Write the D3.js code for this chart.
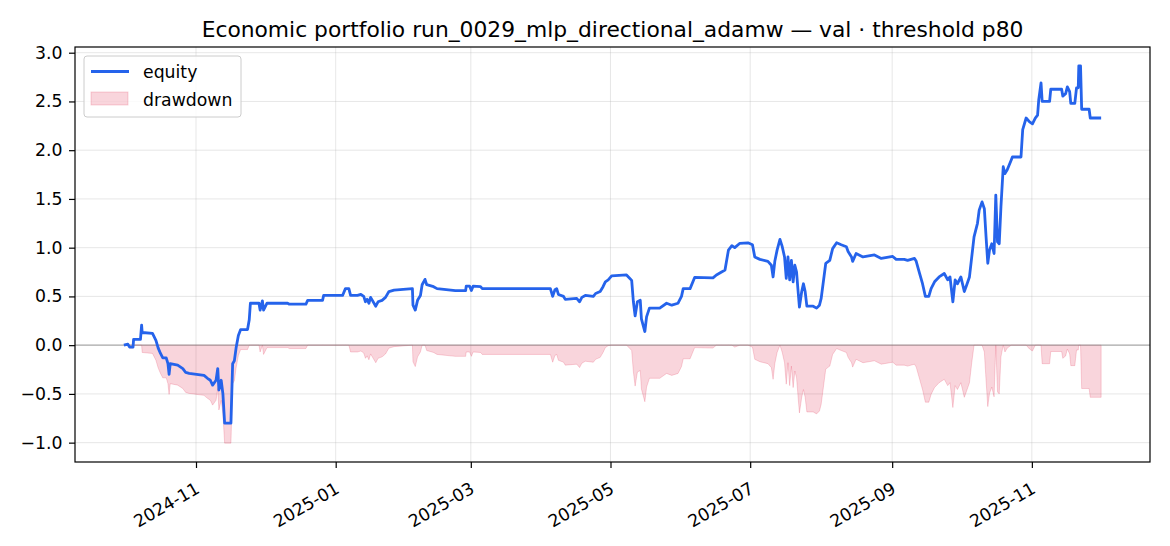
<!DOCTYPE html>
<html>
<head>
<meta charset="utf-8">
<script src="https://cdn.jsdelivr.net/npm/d3@7"></script>
<style>
body{margin:0;background:#fff}
text{font-family:"DejaVu Sans",sans-serif}
</style>
</head>
<body>
<svg id="chart" width="1170" height="546"></svg>
<script>
// values
const dates = [
"2024-09-30T12","2024-10-02T06","2024-10-03T00","2024-10-04T12","2024-10-04T18","2024-10-07T18","2024-10-08T06","2024-10-08T12","2024-10-13T00","2024-10-14T12",
"2024-10-15T12","2024-10-16T12","2024-10-17T12","2024-10-19T00","2024-10-19T18","2024-10-20T06","2024-10-20T18","2024-10-24T00","2024-10-26T06","2024-10-27T12",
"2024-10-29T00","2024-11-04T12","2024-11-06T00","2024-11-07T06","2024-11-08T06","2024-11-09T18","2024-11-10T12","2024-11-11T00","2024-11-12T00","2024-11-12T18",
"2024-11-13T12","2024-11-16T06","2024-11-17T00","2024-11-17T18","2024-11-18T12","2024-11-19T12","2024-11-20T12","2024-11-23T12","2024-11-24T06","2024-11-24T18",
"2024-11-28T12","2024-11-29T00","2024-11-30T00","2024-11-30T12","2024-12-02T00","2024-12-11T00","2024-12-11T18","2024-12-19T00","2024-12-19T18","2024-12-26T06",
"2024-12-26T18","2025-01-04T00","2025-01-05T06","2025-01-06T18","2025-01-07T12","2025-01-10T12","2025-01-12T00","2025-01-13T06","2025-01-14T00","2025-01-14T18",
"2025-01-15T12","2025-01-16T06","2025-01-18T12","2025-01-19T12","2025-01-21T06","2025-01-22T18","2025-01-24T06","2025-01-26T12","2025-02-03T12","2025-02-03T18",
"2025-02-04T18","2025-02-05T18","2025-02-07T00","2025-02-07T18","2025-02-09T00","2025-02-09T18","2025-02-12T18","2025-02-14T06","2025-02-22T06","2025-02-26T18",
"2025-02-27T00","2025-02-28T12","2025-03-01T06","2025-03-02T00","2025-03-05T06","2025-03-06T00","2025-04-04T18","2025-04-05T18","2025-04-06T18","2025-04-07T12",
"2025-04-08T06","2025-04-10T12","2025-04-11T06","2025-04-16T06","2025-04-17T12","2025-04-18T12","2025-04-20T00","2025-04-23T12","2025-04-24T12","2025-04-26T12",
"2025-04-27T18","2025-04-28T18","2025-04-30T00","2025-05-01T12","2025-05-08T00","2025-05-09T06","2025-05-10T06","2025-05-11T00","2025-05-11T18","2025-05-12T18",
"2025-05-14T00","2025-05-14T12","2025-05-16T00","2025-05-16T18","2025-05-18T00","2025-05-22T12","2025-05-25T12","2025-05-27T18","2025-05-30T12","2025-06-01T00",
"2025-06-01T18","2025-06-04T18","2025-06-06T18","2025-06-14T18","2025-06-16T06","2025-06-18T12","2025-06-20T00","2025-06-21T12","2025-06-23T00","2025-06-24T06",
"2025-06-26T12","2025-06-30T00","2025-07-02T00","2025-07-03T00","2025-07-05T06","2025-07-08T18","2025-07-10T06","2025-07-11T00","2025-07-11T18","2025-07-12T18",
"2025-07-14T00","2025-07-15T00","2025-07-16T00","2025-07-16T18","2025-07-17T12","2025-07-18T06","2025-07-19T00","2025-07-19T18","2025-07-20T12","2025-07-21T06",
"2025-07-22T00","2025-07-22T12","2025-07-23T12","2025-07-24T06","2025-07-25T00","2025-07-25T18","2025-07-28T12","2025-07-30T00","2025-07-31T06","2025-08-01T00",
"2025-08-03T00","2025-08-04T18","2025-08-06T00","2025-08-07T18","2025-08-09T18","2025-08-12T00","2025-08-12T18","2025-08-14T06","2025-08-14T18","2025-08-16T06",
"2025-08-19T06","2025-08-24T06","2025-08-27T06","2025-09-01T06","2025-09-02T18","2025-09-06T06","2025-09-07T18","2025-09-10T18","2025-09-11T12","2025-09-13T00",
"2025-09-14T06","2025-09-15T12","2025-09-17T00","2025-09-18T00","2025-09-19T12","2025-09-21T12","2025-09-23T18","2025-09-25T06","2025-09-26T06","2025-09-27T12",
"2025-09-28T12","2025-09-29T12","2025-10-01T00","2025-10-02T12","2025-10-03T12","2025-10-04T18","2025-10-05T18","2025-10-06T18","2025-10-08T06","2025-10-09T00",
"2025-10-10T06","2025-10-11T06","2025-10-12T00","2025-10-12T18","2025-10-13T12","2025-10-14T12","2025-10-15T12","2025-10-16T06","2025-10-17T00","2025-10-17T18",
"2025-10-18T12","2025-10-19T12","2025-10-20T06","2025-10-21T06","2025-10-23T00","2025-10-23T12","2025-10-27T06","2025-10-28T00","2025-10-29T12","2025-10-31T00",
"2025-11-01T06","2025-11-02T12","2025-11-03T12","2025-11-04T00","2025-11-05T00","2025-11-05T12","2025-11-08T18","2025-11-09T06","2025-11-14T00","2025-11-14T12",
"2025-11-15T18","2025-11-16T12","2025-11-17T12","2025-11-18T00","2025-11-19T18","2025-11-20T12","2025-11-21T06","2025-11-21T12","2025-11-22T06","2025-11-22T18",
"2025-11-26T00","2025-11-26T12","2025-12-01T06"
];

const equity = [
0.00,0.01,-0.02,-0.02,0.06,0.06,0.205,0.13,0.12,0.05,
-0.03,-0.085,-0.13,-0.13,-0.19,-0.30,-0.19,-0.205,-0.24,-0.28,
-0.29,-0.31,-0.34,-0.36,-0.41,-0.36,-0.24,-0.46,-0.36,-0.50,
-0.80,-0.80,-0.19,-0.16,-0.03,0.10,0.16,0.16,0.26,0.43,
0.43,0.36,0.455,0.36,0.43,0.43,0.42,0.42,0.46,0.46,
0.51,0.51,0.58,0.58,0.51,0.51,0.52,0.50,0.445,0.47,
0.43,0.49,0.40,0.445,0.46,0.49,0.55,0.565,0.58,0.41,
0.36,0.46,0.51,0.62,0.675,0.62,0.60,0.58,0.56,0.56,
0.605,0.605,0.56,0.605,0.60,0.58,0.58,0.50,0.57,0.58,
0.52,0.50,0.47,0.48,0.445,0.49,0.51,0.50,0.53,0.55,
0.60,0.65,0.67,0.71,0.72,0.69,0.665,0.445,0.30,0.445,
0.46,0.27,0.14,0.29,0.38,0.38,0.43,0.41,0.43,0.50,
0.58,0.58,0.695,0.69,0.72,0.75,0.77,0.975,1.02,1.00,
1.045,1.05,1.03,0.905,0.88,0.86,0.82,0.70,0.86,0.975,
1.085,1.01,0.905,0.685,0.905,0.67,0.87,0.65,0.82,0.75,
0.53,0.39,0.55,0.63,0.55,0.40,0.40,0.38,0.41,0.48,
0.84,0.87,0.99,1.05,1.03,1.01,0.96,0.905,0.86,0.94,
0.905,0.925,0.89,0.91,0.88,0.88,0.87,0.89,0.86,0.735,
0.63,0.50,0.50,0.58,0.65,0.70,0.735,0.67,0.70,0.445,
0.67,0.63,0.70,0.55,0.615,0.70,0.905,1.11,1.25,1.385,
1.47,1.40,1.11,0.84,0.975,1.04,0.94,1.54,1.06,1.04,
1.42,1.83,1.76,1.80,1.90,1.93,1.93,2.21,2.33,2.29,
2.27,2.33,2.36,2.515,2.69,2.50,2.50,2.625,2.625,2.555,
2.58,2.65,2.60,2.48,2.48,2.64,2.64,2.865,2.865,2.42,
2.42,2.33,2.33
];

const drawdown = [
0,0,-0.03,-0.03,0,0,0,-0.075,-0.085,-0.155,
-0.235,-0.29,-0.335,-0.335,-0.395,-0.505,-0.395,-0.41,-0.445,-0.485,
-0.495,-0.515,-0.545,-0.565,-0.615,-0.565,-0.445,-0.665,-0.565,-0.705,
-1.005,-1.005,-0.395,-0.365,-0.235,-0.105,-0.045,-0.045,0,0,
0,-0.07,0,-0.095,-0.025,-0.025,-0.035,-0.035,0,0,
0,0,0,0,-0.07,-0.07,-0.06,-0.08,-0.135,-0.11,
-0.15,-0.09,-0.18,-0.135,-0.12,-0.09,-0.03,-0.015,0,-0.17,
-0.22,-0.12,-0.07,0,0,-0.055,-0.075,-0.095,-0.115,-0.115,
-0.07,-0.07,-0.115,-0.07,-0.075,-0.095,-0.095,-0.175,-0.105,-0.095,
-0.155,-0.175,-0.205,-0.195,-0.23,-0.185,-0.165,-0.175,-0.145,-0.125,
-0.075,-0.025,-0.005,0,0,-0.03,-0.055,-0.275,-0.42,-0.275,
-0.26,-0.45,-0.58,-0.43,-0.34,-0.34,-0.29,-0.31,-0.29,-0.22,
-0.14,-0.14,-0.025,-0.03,0,0,0,0,0,-0.02,
0,0,-0.02,-0.145,-0.17,-0.19,-0.23,-0.35,-0.19,-0.075,
0,-0.075,-0.18,-0.40,-0.18,-0.415,-0.215,-0.435,-0.265,-0.335,
-0.555,-0.695,-0.535,-0.455,-0.535,-0.685,-0.685,-0.705,-0.675,-0.605,
-0.245,-0.215,-0.095,-0.035,-0.055,-0.075,-0.125,-0.18,-0.225,-0.145,
-0.18,-0.16,-0.195,-0.175,-0.205,-0.205,-0.215,-0.195,-0.225,-0.35,
-0.455,-0.585,-0.585,-0.505,-0.435,-0.385,-0.35,-0.415,-0.385,-0.64,
-0.415,-0.455,-0.385,-0.535,-0.47,-0.385,-0.18,0,0,0,
0,-0.07,-0.36,-0.63,-0.495,-0.43,-0.53,0,-0.48,-0.50,
-0.12,0,-0.07,-0.03,0,0,0,0,0,-0.04,
-0.06,0,0,0,0,-0.19,-0.19,-0.065,-0.065,-0.135,
-0.11,-0.04,-0.09,-0.21,-0.21,-0.05,-0.05,0,0,-0.445,
-0.445,-0.535,-0.535
];

const yTicks = [-1.0,-0.5,0.0,0.5,1.0,1.5,2.0,2.5,3.0];
const legendLabels = ["equity","drawdown"];
const title = "Economic portfolio run_0029_mlp_directional_adamw \u2014 val \u00b7 threshold p80";

var plotL=75, plotR=1150, plotT=47, plotB=462;
var blue="#2563eb";

var parse = d3.utcParse("%Y-%m-%dT%H");
var rows = dates.map(function(d,i){ return {t:parse(d), eq:equity[i], dd:drawdown[i]}; });

// matplotlib style 5% margins
var tExt = d3.extent(rows, function(d){return d.t;});
var tPad = (tExt[1]-tExt[0])*0.05;
var x = d3.scaleUtc().domain([new Date(+tExt[0]-tPad), new Date(+tExt[1]+tPad)]).range([plotL,plotR]);
var yLo = d3.min(rows, function(d){return Math.min(d.eq,d.dd);});
var yHi = d3.max(rows, function(d){return Math.max(d.eq,d.dd);});
var yPad = (yHi-yLo)*0.05;
var y = d3.scaleLinear().domain([yLo-yPad, yHi+yPad]).range([plotB,plotT]);

var svg = d3.select("#chart");
var xTicks = x.ticks(d3.utcMonth.every(2));

// grid
var grid = svg.append("g").attr("stroke","#b0b0b0").attr("stroke-opacity",0.3).attr("stroke-width",1);
grid.selectAll(".gy").data(yTicks).enter().append("line")
  .attr("x1",plotL).attr("x2",plotR)
  .attr("y1",function(d){return y(d);}).attr("y2",function(d){return y(d);});
grid.selectAll(".gx").data(xTicks).enter().append("line")
  .attr("y1",plotT).attr("y2",plotB)
  .attr("x1",function(d){return x(d);}).attr("x2",function(d){return x(d);});

// drawdown area
svg.append("path").datum(rows)
  .attr("fill","crimson").attr("fill-opacity",0.18)
  .attr("stroke","crimson").attr("stroke-opacity",0.18).attr("stroke-width",1)
  .attr("d", d3.area().x(function(d){return x(d.t);}).y0(y(0)).y1(function(d){return y(d.dd);}));

// zero line
svg.append("line").attr("x1",plotL).attr("x2",plotR).attr("y1",y(0)).attr("y2",y(0))
  .attr("stroke","#808080").attr("stroke-opacity",0.6).attr("stroke-width",1.1);

// equity
svg.append("path").datum(rows)
  .attr("fill","none").attr("stroke",blue).attr("stroke-width",2.8).attr("stroke-linejoin","round")
  .attr("d", d3.line().x(function(d){return x(d.t);}).y(function(d){return y(d.eq);}));

// axes
var ya = svg.append("g").attr("transform","translate("+plotL+",0)")
  .call(d3.axisLeft(y).tickValues(yTicks).tickFormat(d3.format(".1f")).tickSize(6).tickPadding(6.5));
var xa = svg.append("g").attr("transform","translate(0,"+plotB+")")
  .call(d3.axisBottom(x).tickValues(xTicks).tickFormat(d3.utcFormat("%Y-%m")).tickSize(6));
[ya,xa].forEach(function(g){
  g.select(".domain").remove();
  g.selectAll(".tick line").attr("stroke","#000").attr("stroke-width",1.2);
  g.selectAll(".tick text").attr("fill","#000").style("font-size","17.3px").style("font-family","DejaVu Sans");
});
xa.selectAll(".tick text")
  .attr("text-anchor","end").attr("x",0).attr("y",0).attr("dy","0.73em")
  .attr("transform","translate(-2,19) rotate(-30)");

svg.append("rect").attr("x",plotL).attr("y",plotT).attr("width",plotR-plotL).attr("height",plotB-plotT)
  .attr("fill","none").attr("stroke","#000").attr("stroke-width",1.2);

// title
svg.append("text").attr("x",(plotL+plotR)/2).attr("y",37).attr("text-anchor","middle")
  .style("font-size","21.8px").attr("fill","#000").text(title);

// legend
var lg = svg.append("g");
lg.append("rect").attr("x",84).attr("y",56).attr("width",157).attr("height",61).attr("rx",3)
  .attr("fill","#fff").attr("fill-opacity",0.8).attr("stroke","#cccccc").attr("stroke-width",1);
lg.append("line").attr("x1",91).attr("x2",129).attr("y1",71.5).attr("y2",71.5)
  .attr("stroke",blue).attr("stroke-width",2.8);
lg.append("rect").attr("x",91).attr("y",92).attr("width",37).attr("height",13)
  .attr("fill","crimson").attr("fill-opacity",0.18).attr("stroke","crimson").attr("stroke-opacity",0.18);
lg.selectAll(".lt").data(legendLabels).enter().append("text")
  .attr("x",143).attr("y",function(d,i){return 77.5+i*28;})
  .style("font-size","17.3px").attr("fill","#000").text(function(d){return d;});
</script>
</body>
</html>
